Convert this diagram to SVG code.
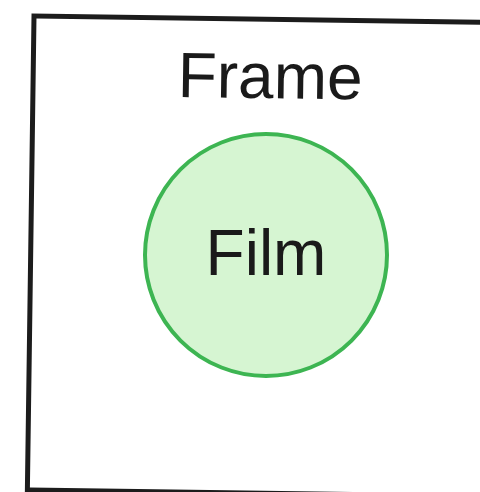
<svg xmlns="http://www.w3.org/2000/svg" width="480" height="492" viewBox="0 0 480 492">
<style>
.lbl{font-family:"Liberation Sans",Arial,sans-serif;font-size:64px;fill:#1a1a1a;text-anchor:middle}
</style>
<rect width="480" height="492" fill="#ffffff"/>
<g id="frame" transform="rotate(0.8 34 16)">
<rect x="34" y="16" width="470" height="474" fill="none" stroke="#1c1c1c" stroke-width="5"/>
<text class="lbl" x="271" y="95">Frame</text>
</g>
<g id="film">
<circle cx="266" cy="255" r="121" fill="#d6f5d2" stroke="#3db552" stroke-width="4"/>
<text class="lbl" x="266" y="275">Film</text>
</g>
<g id="connectors"></g>
</svg>
